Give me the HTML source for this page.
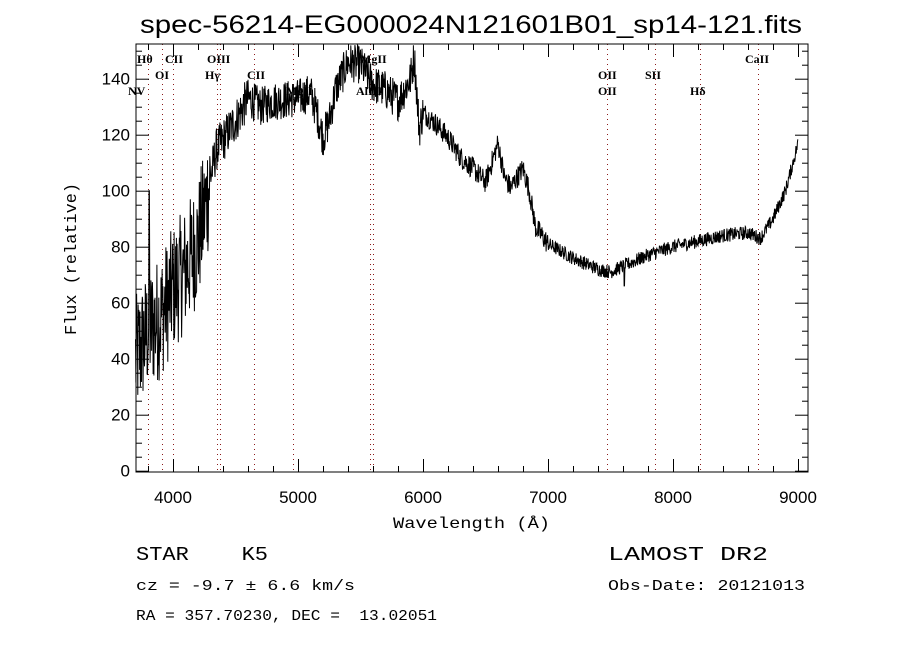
<!DOCTYPE html>
<html><head><meta charset="utf-8"><style>
body{margin:0;background:#fff;}
svg{display:block}
.t{font-family:"Liberation Sans",sans-serif;fill:#000}
.s{font-family:"Liberation Serif",serif;fill:#000}
.m{font-family:"Liberation Mono",monospace;fill:#000}
</style></head><body>
<svg id="c" width="900" height="650" viewBox="0 0 900 650" xmlns="http://www.w3.org/2000/svg">
<rect width="900" height="650" fill="#fff"/>
<text class="t" x="140" y="33" font-size="25" textLength="662" lengthAdjust="spacingAndGlyphs">spec-56214-EG000024N121601B01_sp14-121.fits</text>
<g id="dots" stroke="#8b1a1a" stroke-width="1" stroke-dasharray="1,4"></g>
<g id="ticks" stroke="#000" stroke-width="1"></g>
<rect x="136" y="44" width="672" height="428" fill="none" stroke="#000" stroke-width="1"/>
<path id="spec" fill="none" stroke="#000" stroke-width="1"/>
<g class="s" font-size="12" font-weight="bold">
<text x="137" y="63">Hθ</text><text x="165" y="63">CII</text><text x="207" y="63">OIII</text>
<text x="155" y="79">OI</text><text x="205" y="79">Hγ</text><text x="247" y="79">CII</text>
<text x="128" y="95">NV</text><text x="286" y="95">MgII</text>
<text x="360" y="63">MgII</text><text x="356" y="95">AlIII</text>
<text x="598" y="79">OII</text><text x="598" y="95">OII</text><text x="645" y="79">SII</text>
<text x="690" y="95">Hδ</text><text x="745" y="63">CaII</text>
</g>
<g class="t" font-size="17" text-anchor="middle" id="xl"></g>
<g class="t" font-size="17" text-anchor="end" id="yl"></g>
<text class="m" x="393" y="528" font-size="16" textLength="157" lengthAdjust="spacingAndGlyphs">Wavelength (Å)</text>
<text class="m" x="76" y="335" font-size="17" textLength="152" lengthAdjust="spacingAndGlyphs" transform="rotate(-90 76 335)">Flux (relative)</text>
<text class="m" x="136" y="560" font-size="19" textLength="132" lengthAdjust="spacingAndGlyphs" xml:space="preserve">STAR    K5</text>
<text class="m" x="136" y="590" font-size="15" textLength="219" lengthAdjust="spacingAndGlyphs">cz = -9.7 ± 6.6 km/s</text>
<text class="m" x="136" y="620" font-size="15" textLength="301" lengthAdjust="spacingAndGlyphs" xml:space="preserve">RA = 357.70230, DEC =  13.02051</text>
<text class="m" x="608" y="560" font-size="19" textLength="160" lengthAdjust="spacingAndGlyphs">LAMOST DR2</text>
<text class="m" x="608" y="590" font-size="15" textLength="197" lengthAdjust="spacingAndGlyphs">Obs-Date: 20121013</text>
</svg>
<script>
var NS="http://www.w3.org/2000/svg";
function X(w){return 173+(w-4000)*0.125;}
function Y(f){return 470.7-f*2.8;}
function el(p,t,a){var e=document.createElementNS(NS,t);for(var k in a)e.setAttribute(k,a[k]);p.appendChild(e);return e;}
var d=document.getElementById('dots');
[148,162,173,217,220,254,293,370,373,607,655,700,758].forEach(function(x){el(d,'line',{x1:x+.5,y1:44,x2:x+.5,y2:472});});
var tk=document.getElementById('ticks');
for(var w=3800;w<=9000;w+=200){var x=X(w)+.5,L=(w%1000==0)?13:6;el(tk,'line',{x1:x,y1:472,x2:x,y2:472-L});el(tk,'line',{x1:x,y1:44,x2:x,y2:44+L});}
for(var f=0;f<=150;f+=5){var y=Y(f)+.5,L=(f%20==0)?13:6;el(tk,'line',{x1:136,y1:y,x2:136+L,y2:y});el(tk,'line',{x1:808,y1:y,x2:808-L,y2:y});}
var xl=document.getElementById('xl');
for(var w=4000;w<=9000;w+=1000){el(xl,'text',{x:X(w),y:503}).textContent=w;}
var yl=document.getElementById('yl');
for(var f=0;f<=140;f+=20){el(yl,'text',{x:130,y:Y(f)+6}).textContent=f;}
var K=[[3700,40],[3800,50],[3900,55],[4000,65],[4100,72],[4200,82],[4250,92],[4300,105],[4350,115],[4400,118],[4500,125],[4600,133],[4700,130],[4800,132],[5000,133],[5100,135],[5150,128],[5200,119],[5250,125],[5300,136],[5400,146],[5500,145],[5600,138],[5700,136],[5800,132],[5900,140],[5930,148],[5970,122],[6000,128],[6100,124],[6200,119],[6300,112],[6400,108],[6500,103],[6550,110],[6600,117],[6650,105],[6700,101],[6800,108],[6850,100],[6900,87],[7000,81],[7200,76],[7400,72],[7500,71],[7600,73],[7800,77],[8000,80],[8200,82],[8400,84],[8600,85],[8700,83],[8800,90],[8900,100],[8960,110],[9000,117]];
function base(w){for(var i=0;i<K.length-1;i++){if(w<=K[i+1][0]){var t=(w-K[i][0])/(K[i+1][0]-K[i][0]);return K[i][1]+t*(K[i+1][1]-K[i][1]);}}return 117;}
var s=12345;function r(){s=(s*1103515245+12345)%2147483648;return s/2147483648-0.5;}
var p="";
for(var w=3700;w<=9000;w+=3){var a=w<4300?45:(w<4600?16:(w<6000?14:(w<7000?8:5)));var v=base(w)+r()*a;if(Math.abs(w-7610)<3)v=66;if(Math.abs(w-3810)<3)v=100;if(w<4300)v=Math.max(v,22);if(v>152)v=152;p+=(p?"L":"M")+X(w).toFixed(1)+" "+Y(v).toFixed(1);}
document.getElementById('spec').setAttribute('d',p);
</script>
</body></html>
